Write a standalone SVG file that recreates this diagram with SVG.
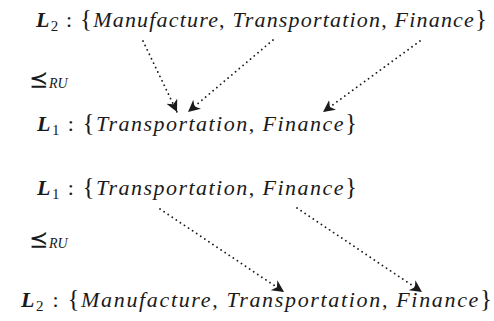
<svg xmlns="http://www.w3.org/2000/svg" width="494" height="321" viewBox="0 0 494 321">
<style>
.t{font-family:"Liberation Serif","DejaVu Serif",serif;font-size:22px;fill:#1a1a1a}
.i{font-style:italic}
.b{font-weight:bold;font-style:italic}
.sub{font-size:15px;font-style:normal}
.br{font-size:25px}
.rel{font-family:"DejaVu Sans","DejaVu Serif",sans-serif;font-size:23px;fill:#1a1a1a}
.rs{font-family:"Liberation Serif",serif;font-style:italic;font-size:14px;fill:#1a1a1a}
.c{fill:none;stroke:#1a1a1a;stroke-width:1.8;stroke-linecap:round;stroke-dasharray:0.1 4.8}
</style>
<defs>
<marker id="ah" markerUnits="userSpaceOnUse" markerWidth="16" markerHeight="14" refX="12" refY="6" orient="auto">
<path d="M0,0 L12,6 L0,12 L3.5,6 Z" fill="#1a1a1a"/>
</marker>
</defs>
<g id="n-L2-top">
<text class="t" x="36" y="27" textLength="451" lengthAdjust="spacing"><tspan class="b">L</tspan><tspan class="sub" dy="4">2</tspan><tspan dy="-4"> : </tspan><tspan class="br">{</tspan><tspan class="i">Manufacture</tspan>, <tspan class="i">Transportation</tspan>, <tspan class="i">Finance</tspan><tspan class="br">}</tspan></text>
</g>
<g id="n-rel-top">
<text class="rel" x="29" y="87">⪯</text><text class="rs" x="49" y="88">RU</text>
</g>
<g id="n-L1-top">
<text class="t" x="37" y="131" textLength="320" lengthAdjust="spacing"><tspan class="b">L</tspan><tspan class="sub" dy="4">1</tspan><tspan dy="-4"> : </tspan><tspan class="br">{</tspan><tspan class="i">Transportation</tspan>, <tspan class="i">Finance</tspan><tspan class="br">}</tspan></text>
</g>
<g id="n-L1-bottom">
<text class="t" x="37" y="195" textLength="320" lengthAdjust="spacing"><tspan class="b">L</tspan><tspan class="sub" dy="4">1</tspan><tspan dy="-4"> : </tspan><tspan class="br">{</tspan><tspan class="i">Transportation</tspan>, <tspan class="i">Finance</tspan><tspan class="br">}</tspan></text>
</g>
<g id="n-rel-bottom">
<text class="rel" x="29" y="247">⪯</text><text class="rs" x="49" y="248">RU</text>
</g>
<g id="n-L2-bottom">
<text class="t" x="21" y="307" textLength="471" lengthAdjust="spacing"><tspan class="b">L</tspan><tspan class="sub" dy="4">2</tspan><tspan dy="-4"> : </tspan><tspan class="br">{</tspan><tspan class="i">Manufacture</tspan>, <tspan class="i">Transportation</tspan>, <tspan class="i">Finance</tspan><tspan class="br">}</tspan></text>
</g>
<g id="connectors">
<path class="c" d="M143,41 L177,112" marker-end="url(#ah)"/>
<path class="c" d="M273,40 L188,112" marker-end="url(#ah)"/>
<path class="c" d="M420,41 L323,112" marker-end="url(#ah)"/>
<path class="c" d="M160,209 L284,292" marker-end="url(#ah)"/>
<path class="c" d="M297,208 L422,292" marker-end="url(#ah)"/>
</g>
</svg>
